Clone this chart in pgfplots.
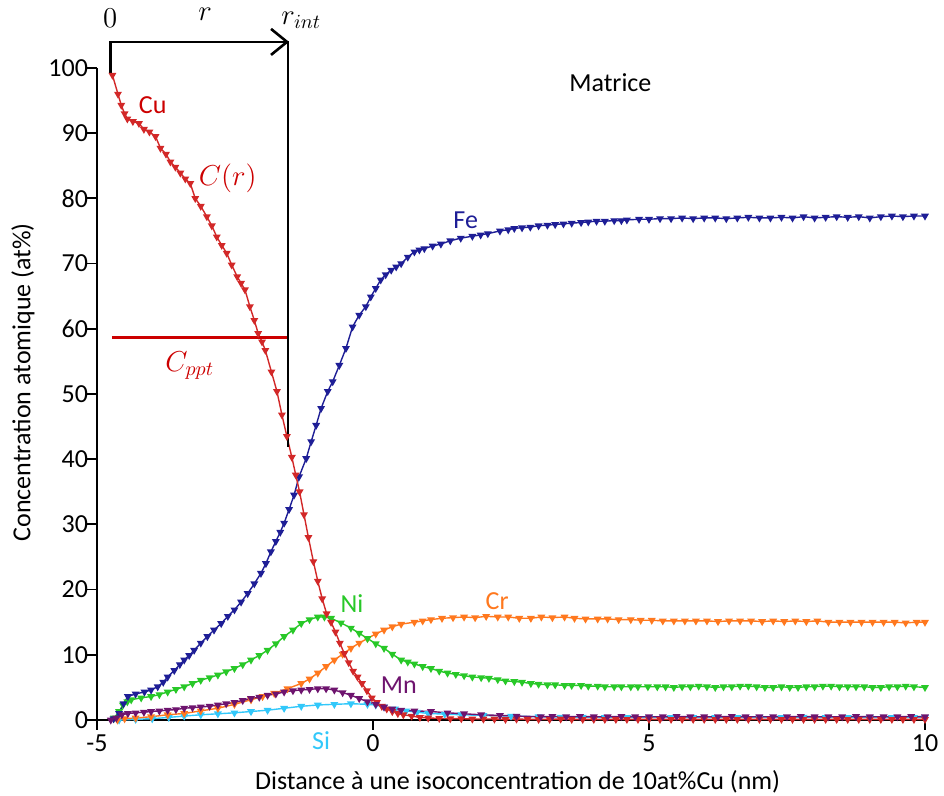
\documentclass[border=0pt]{standalone}
\usepackage{pgfplots}
\pgfplotsset{compat=1.18}
\usetikzlibrary{arrows.meta}
\usepackage{fontspec}
\setmainfont{Carlito}
\definecolor{cuR}{RGB}{210,40,40}
\definecolor{cuL}{RGB}{204,0,0}
\definecolor{feC}{RGB}{30,30,150}
\definecolor{niC}{RGB}{40,200,40}
\definecolor{crC}{RGB}{255,120,30}
\definecolor{mnC}{RGB}{110,20,110}
\definecolor{siC}{RGB}{50,200,250}
\newcommand{\fs}{\fontsize{13}{15.6}\selectfont}
\newcommand{\fm}{\fontsize{14}{16}\selectfont}
\begin{document}
\begin{tikzpicture}
\useasboundingbox (-48.5pt,-38pt) rectangle (423.5pt,360pt);
\begin{axis}[
  scale only axis, width=414pt, height=326pt,
  xmin=-5, xmax=10, ymin=0, ymax=100,
  axis x line*=bottom, axis y line*=left,
  axis line style={line width=1pt, black},
  xtick={-5,0,5,10}, ytick={0,10,...,100},
  tick align=outside, major tick length=5pt,
  tick style={black, line width=0.9pt},
  /pgf/number format/assume math mode=true,
  tick label style={font=\fs, black},
  yticklabel style={xshift=4pt},
  xticklabel style={yshift=1pt},
  xlabel={Distance à une isoconcentration de 10at\%Cu (nm)},
  ylabel={Concentration atomique (at\%)},
  every axis x label/.style={at={(axis description cs:0.508,-0.095)},anchor=center,font=\fs},
  every axis y label/.style={at={(axis description cs:-0.0894,0.518)},anchor=center,rotate=90,font=\fs},
  clip=false,
  every axis plot/.append style={line width=0.7pt, mark size=1.6pt, mark=triangle*, mark options={rotate=180, solid}},
]
% Si
\addplot[siC] coordinates {
(-4.60,0.0) (-4.30,0.1) (-4.00,0.2) (-3.70,0.4) (-3.42,0.6) (-3.12,0.8) (-2.81,0.95) (-2.51,1.1) (-2.21,1.3) (-1.91,1.5) (-1.61,1.8) (-1.30,2.1) (-1.00,2.3) (-0.70,2.4) (-0.40,2.5) (-0.10,2.4) (0.05,2.3) (0.20,2.0) (0.40,1.7) (0.60,1.4) (0.80,1.2) (1.0,1.0) (1.3,0.9) (1.6,0.8) (2.0,0.7) (2.5,0.6) (3.0,0.5) (3.4,0.45) (3.8,0.45) (4.2,0.4) (4.6,0.4) (5.0,0.4) (5.4,0.4) (5.8,0.4) (6.2,0.4) (6.6,0.4) (7.0,0.4) (7.4,0.4) (7.8,0.45) (8.2,0.4) (8.6,0.4) (9.0,0.4) (9.4,0.4) (9.8,0.4) (10.0,0.4)};
% Cr
\addplot[crC] coordinates {
(-4.63,0.0) (-4.50,0.2) (-4.30,0.3) (-4.02,0.5) (-3.72,0.8) (-3.42,1.0) (-3.12,1.4) (-2.81,1.8) (-2.51,2.4) (-2.21,3.1) (-2.00,3.6) (-1.79,4.1) (-1.55,4.8) (-1.30,5.6) (-1.15,6.3) (-1.00,7.2) (-0.85,8.2) (-0.70,9.2) (-0.55,10.1) (-0.40,11.0) (-0.25,11.8) (-0.10,12.5) (0.05,13.2) (0.20,13.8) (0.35,14.3) (0.51,14.7) (0.75,15.0) (0.90,15.2) (1.05,15.4) (1.25,15.6) (1.45,15.7) (1.65,15.8) (1.85,15.7) (2.05,15.9) (2.26,15.8) (2.45,15.8) (2.65,15.6) (2.86,15.6) (3.05,15.8) (3.25,15.7) (3.47,15.8) (3.65,15.6) (3.85,15.5) (4.07,15.5) (4.25,15.5) (4.45,15.4) (4.67,15.4) (4.85,15.3) (5.05,15.3) (5.25,15.2) (5.45,15.2) (5.65,15.2) (5.85,15.2) (6.05,15.2) (6.25,15.1) (6.45,15.2) (6.65,15.2) (6.85,15.2) (7.05,15.1) (7.25,15.2) (7.45,15.1) (7.65,15.2) (7.85,15.1) (8.05,15.2) (8.25,15.0) (8.45,15.0) (8.65,15.0) (8.85,15.0) (9.05,15.0) (9.25,15.0) (9.45,15.0) (9.65,14.9) (9.85,15.0) (10.0,15.0)};
% Ni
\addplot[niC] coordinates {
(-4.69,0.3) (-4.60,1.3) (-4.53,2.3) (-4.45,2.8) (-4.38,3.1) (-4.20,3.4) (-4.02,3.6) (-3.87,3.9) (-3.72,4.3) (-3.57,4.7) (-3.42,5.1) (-3.27,5.6) (-3.12,6.1) (-2.96,6.5) (-2.81,6.9) (-2.66,7.4) (-2.51,7.9) (-2.36,8.5) (-2.21,9.2) (-2.06,9.9) (-1.91,10.7) (-1.76,11.7) (-1.61,12.8) (-1.45,13.8) (-1.30,14.8) (-1.15,15.4) (-1.00,15.8) (-0.88,15.8) (-0.76,15.6) (-0.58,14.9) (-0.40,14.1) (-0.25,13.3) (-0.10,12.5) (0.05,11.7) (0.20,11.0) (0.35,10.1) (0.51,9.2) (0.63,8.9) (0.75,8.6) (0.90,8.2) (1.05,7.9) (1.20,7.5) (1.35,7.2) (1.50,7.0) (1.65,6.8) (1.80,6.6) (1.96,6.5) (2.10,6.4) (2.26,6.2) (2.40,6.0) (2.56,5.9) (2.70,5.8) (2.86,5.6) (3.00,5.5) (3.16,5.4) (3.30,5.4) (3.47,5.3) (3.60,5.3) (3.77,5.3) (3.90,5.2) (4.07,5.2) (4.20,5.1) (4.37,5.1) (4.50,5.1) (4.67,5.1) (4.80,5.1) (4.98,5.1) (5.15,5.1) (5.30,5.1) (5.45,5.0) (5.60,5.1) (5.75,5.1) (5.90,5.2) (6.05,5.1) (6.20,5.0) (6.35,5.1) (6.50,5.1) (6.65,5.2) (6.80,5.2) (6.95,5.1) (7.10,5.0) (7.25,5.0) (7.40,5.1) (7.55,5.0) (7.70,5.0) (7.85,5.1) (8.00,5.1) (8.15,5.2) (8.30,5.2) (8.45,5.1) (8.60,5.1) (8.75,5.1) (8.90,5.1) (9.05,5.0) (9.20,5.0) (9.35,5.1) (9.50,5.1) (9.65,5.2) (9.80,5.1) (10.0,5.0)};
% Fe
\addplot[feC] coordinates {
(-4.70,0.2) (-4.60,1.0) (-4.52,2.5) (-4.44,3.6) (-4.30,4.0) (-4.14,4.3) (-4.02,4.6) (-3.90,5.1) (-3.80,5.8) (-3.72,6.6) (-3.60,7.6) (-3.50,8.5) (-3.42,9.2) (-3.33,9.9) (-3.24,10.7) (-3.12,11.8) (-3.00,12.8) (-2.88,13.8) (-2.75,14.8) (-2.63,15.9) (-2.51,16.9) (-2.39,18.1) (-2.27,19.4) (-2.15,20.9) (-2.03,22.5) (-1.94,24.0) (-1.85,25.8) (-1.76,27.4) (-1.68,28.8) (-1.61,30.2) (-1.52,32.3) (-1.43,34.5) (-1.34,37.3) (-1.21,40.1) (-1.12,42.7) (-1.03,45.2) (-0.94,47.8) (-0.82,50.4) (-0.73,51.9) (-0.61,54.4) (-0.49,57.0) (-0.37,60.3) (-0.25,62.1) (-0.13,63.4) (-0.04,64.9) (0.05,66.2) (0.14,67.5) (0.23,68.3) (0.33,69.0) (0.42,69.5) (0.51,70.0) (0.63,71.0) (0.75,71.8) (0.84,72.1) (0.93,72.3) (1.08,72.7) (1.23,73.0) (1.40,73.5) (1.59,73.9) (1.80,74.2) (1.95,74.4) (2.08,74.6) (2.30,75.0) (2.45,75.2) (2.56,75.4) (2.70,75.5) (2.85,75.6) (3.00,75.8) (3.16,75.9) (3.30,76.0) (3.45,76.1) (3.60,76.2) (3.77,76.3) (3.90,76.4) (4.05,76.5) (4.20,76.5) (4.37,76.6) (4.50,76.6) (4.60,76.7) (4.82,76.8) (5.00,76.8) (5.20,76.9) (5.40,76.9) (5.60,77.0) (5.80,76.9) (6.00,77.0) (6.20,77.0) (6.40,76.9) (6.60,77.0) (6.80,77.1) (7.00,77.0) (7.20,77.0) (7.40,77.1) (7.60,77.0) (7.80,77.2) (8.00,77.0) (8.20,77.1) (8.40,77.2) (8.60,77.1) (8.80,77.2) (9.00,77.0) (9.20,77.2) (9.40,77.3) (9.60,77.2) (9.80,77.3) (10.0,77.3)};
% Cu
\addplot[cuR] coordinates {
(-4.72,98.9) (-4.62,96.0) (-4.56,94.3) (-4.50,93.0) (-4.45,92.2) (-4.35,91.8) (-4.24,91.5) (-4.15,90.6) (-4.05,90.2) (-3.94,89.5) (-3.85,87.7) (-3.75,86.8) (-3.67,85.6) (-3.58,84.8) (-3.49,83.9) (-3.40,83.0) (-3.31,82.3) (-3.22,80.0) (-3.12,78.8) (-3.01,77.2) (-2.92,75.8) (-2.83,74.1) (-2.74,72.8) (-2.65,71.6) (-2.56,69.8) (-2.46,68.0) (-2.39,67.0) (-2.32,66.0) (-2.23,63.4) (-2.15,61.3) (-2.08,59.3) (-2.01,58.0) (-1.95,56.7) (-1.84,53.4) (-1.74,50.4) (-1.65,46.8) (-1.56,43.5) (-1.47,40.3) (-1.40,37.6) (-1.33,35.0) (-1.25,31.5) (-1.17,28.0) (-1.08,24.3) (-1.00,21.3) (-0.92,18.6) (-0.84,16.3) (-0.76,15.0) (-0.68,13.5) (-0.60,11.8) (-0.52,10.2) (-0.44,8.8) (-0.36,7.5) (-0.28,6.6) (-0.20,5.6) (-0.11,4.5) (-0.02,3.4) (0.07,2.7) (0.16,2.1) (0.25,1.7) (0.35,1.3) (0.45,1.0) (0.55,0.8) (0.70,0.6) (0.85,0.4) (1.00,0.3) (1.20,0.25) (1.40,0.2) (1.60,0.2) (1.80,0.15) (2.00,0.15) (2.20,0.15) (2.40,0.1) (2.60,0.15) (2.80,0.1) (3.00,0.1) (3.20,0.1) (3.40,0.15) (3.60,0.1) (3.80,0.1) (4.00,0.1) (4.20,0.1) (4.40,0.1) (4.60,0.1) (4.80,0.1) (5.00,0.1) (5.20,0.1) (5.40,0.1) (5.60,0.1) (5.80,0.1) (6.00,0.1) (6.20,0.1) (6.40,0.1) (6.60,0.1) (6.80,0.1) (7.00,0.1) (7.20,0.1) (7.40,0.1) (7.60,0.1) (7.80,0.1) (8.00,0.1) (8.20,0.1) (8.40,0.1) (8.60,0.1) (8.80,0.1) (9.00,0.1) (9.20,0.1) (9.40,0.1) (9.60,0.1) (9.80,0.1) (10.0,0.1)};
% Mn
\addplot[mnC] coordinates {
(-4.75,0.0) (-4.65,0.3) (-4.55,0.8) (-4.44,1.0) (-4.30,1.1) (-4.15,1.2) (-4.02,1.3) (-3.87,1.4) (-3.72,1.5) (-3.57,1.6) (-3.42,1.8) (-3.27,1.9) (-3.12,2.0) (-2.96,2.1) (-2.81,2.3) (-2.66,2.5) (-2.51,2.7) (-2.36,3.0) (-2.21,3.3) (-2.06,3.5) (-1.91,3.8) (-1.76,4.0) (-1.61,4.3) (-1.45,4.5) (-1.30,4.6) (-1.15,4.7) (-1.00,4.8) (-0.85,4.8) (-0.70,4.6) (-0.55,4.2) (-0.40,3.8) (-0.25,3.3) (-0.10,2.8) (0.05,2.4) (0.20,2.0) (0.35,1.7) (0.51,1.5) (0.75,1.4) (1.05,1.3) (1.35,1.1) (1.65,0.95) (1.96,0.8) (2.30,0.7) (2.60,0.6) (3.04,0.5) (3.25,0.55) (3.50,0.5) (3.75,0.55) (4.00,0.5) (4.25,0.5) (4.50,0.55) (4.75,0.5) (5.00,0.5) (5.25,0.5) (5.50,0.55) (5.75,0.5) (6.00,0.5) (6.25,0.5) (6.50,0.55) (6.75,0.5) (7.00,0.5) (7.25,0.5) (7.50,0.5) (7.75,0.55) (8.00,0.5) (8.25,0.5) (8.50,0.5) (8.75,0.55) (9.00,0.5) (9.25,0.5) (9.50,0.5) (9.75,0.55) (10.0,0.5)};
% C_ppt line
\addplot[cuL, line width=1.4pt, mark=none] coordinates {(-4.73,58.7) (-1.54,58.7)};
% annotations
\draw[black, line width=1.3pt] (axis cs:-4.75,99.2) -- (axis cs:-4.75,104) -- (axis cs:-1.54,104) -- (axis cs:-1.54,41.9);
\draw[black, line width=1.3pt, -{Straight Barb[length=8pt,width=13pt,line width=1.3pt]}] (axis cs:-2.2,104) -- (axis cs:-1.52,104);
\node[font=\fm] at (axis cs:-4.76,107.7) {$0$};
\node[font=\fm] at (axis cs:-3.04,108.2) {$r$};
\node[font=\fm] at (axis cs:-1.3,107.3) {$r_{int}$};
\node[font=\fs, text=cuL] at (axis cs:-3.99,94.3) {Cu};
\node[font=\fm, text=cuL] at (axis cs:-2.63,83.1) {$C(r)$};
\node[font=\fm, text=cuL] at (axis cs:-3.32,54.4) {$C_{ppt}$};
\node[font=\fs, text=feC] at (axis cs:1.68,76.7) {Fe};
\node[font=\fs] at (axis cs:4.3,97.7) {Matrice};
\node[font=\fs, text=niC] at (axis cs:-0.38,17.9) {Ni};
\node[font=\fs, text=crC] at (axis cs:2.25,18.3) {Cr};
\node[font=\fs, text=mnC] at (axis cs:0.47,5.4) {Mn};
\node[font=\fs, text=siC] at (axis cs:-0.94,-3.1) {Si};
\end{axis}
\end{tikzpicture}
\end{document}
